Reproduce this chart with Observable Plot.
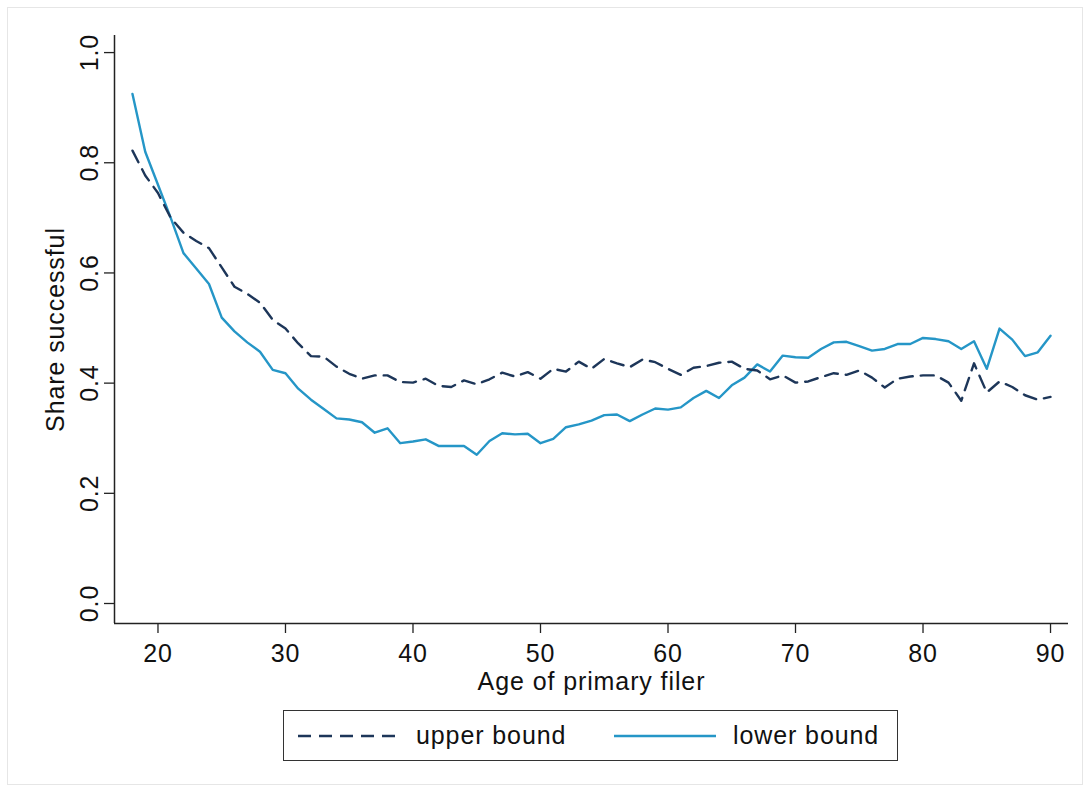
<!DOCTYPE html>
<html>
<head>
<meta charset="utf-8">
<script src="https://cdn.jsdelivr.net/npm/d3@7"></script>
<script src="https://cdn.jsdelivr.net/npm/@observablehq/plot@0.6"></script>
<style>
  html, body { margin: 0; padding: 0; background: #fff; }
  body { width: 1088px; height: 792px; position: relative; overflow: hidden; font-family: "Liberation Sans", Arial, sans-serif; }
  #frame { position: absolute; left: 7px; top: 7px; width: 1074px; height: 776px; border: 1px solid #e6e6e6; pointer-events: none; }
  #chart svg text { letter-spacing: 0.9px; }
  #legend { position: absolute; left: 283px; top: 710px; width: 613px; height: 49px; border: 1.5px solid #333; box-sizing: content-box; }
  #legend .item { position: absolute; top: 0; height: 49px; display: flex; align-items: center; }
  #legend .lab { font-size: 25px; letter-spacing: 0.9px; color: #111; }
</style>
</head>
<body>
<div id="frame"></div>
<div id="chart"></div>
<div id="legend"></div>
<script>
const ages = [18,19,20,21,22,23,24,25,26,27,28,29,30,31,32,33,34,35,36,37,38,39,40,41,42,43,44,45,46,47,48,49,50,51,52,53,54,55,56,57,58,59,60,61,62,63,64,65,66,67,68,69,70,71,72,73,74,75,76,77,78,79,80,81,82,83,84,85,86,87,88,89,90];
const upperBound = [0.822,0.777,0.745,0.700,0.673,0.658,0.645,0.610,0.575,0.562,0.546,0.515,0.499,0.472,0.449,0.448,0.430,0.417,0.408,0.414,0.414,0.402,0.401,0.408,0.395,0.393,0.405,0.398,0.407,0.419,0.412,0.420,0.408,0.426,0.421,0.439,0.426,0.444,0.436,0.429,0.443,0.438,0.426,0.415,0.428,0.431,0.437,0.439,0.426,0.423,0.407,0.414,0.401,0.403,0.411,0.418,0.415,0.423,0.410,0.392,0.408,0.412,0.414,0.414,0.401,0.368,0.436,0.383,0.403,0.393,0.378,0.370,0.375];
const lowerBound = [0.925,0.820,0.760,0.700,0.636,0.608,0.580,0.519,0.494,0.474,0.457,0.424,0.418,0.390,0.370,0.353,0.336,0.334,0.329,0.310,0.318,0.291,0.294,0.298,0.286,0.286,0.286,0.270,0.295,0.309,0.307,0.308,0.291,0.299,0.320,0.325,0.332,0.342,0.343,0.331,0.343,0.354,0.352,0.356,0.373,0.386,0.373,0.396,0.410,0.434,0.421,0.450,0.447,0.446,0.462,0.474,0.475,0.467,0.459,0.462,0.471,0.471,0.482,0.480,0.476,0.462,0.476,0.426,0.499,0.479,0.449,0.456,0.486];
const seriesNames = ["upper bound", "lower bound"];
const seriesColors = ["#1d3659", "#2596c7"];
const xTicks = [20,30,40,50,60,70,80,90];
const yTicks = [0,0.2,0.4,0.6,0.8,1.0];
const xLabel = "Age of primary filer";
const yLabel = "Share successful";

const xDomain = [16.59, 91.41];
const yDomain = [-0.0363, 1.031];

const rows = [];
ages.forEach((a, i) => {
  rows.push({age: a, value: upperBound[i], series: seriesNames[0]});
  rows.push({age: a, value: lowerBound[i], series: seriesNames[1]});
});

const fontSize = 25;
const chart = Plot.plot({
  width: 1088,
  height: 700,
  marginLeft: 114,
  marginRight: 20,
  marginTop: 35,
  marginBottom: 77,
  style: {fontFamily: "'Liberation Sans', Arial, sans-serif", color: "#111", background: "transparent", overflow: "visible"},
  x: {domain: xDomain},
  y: {domain: yDomain},
  marks: [
    Plot.ruleX([xDomain[0]], {stroke: "#222", strokeWidth: 1.5}),
    Plot.ruleY([yDomain[0]], {stroke: "#222", strokeWidth: 1.5}),
    Plot.axisX(xTicks, {tickSize: 10, tickPadding: 11, fontSize, label: null, stroke: "#222", strokeWidth: 1.3}),
    Plot.axisY(yTicks, {tickSize: 10, tickFormat: () => "", label: null, stroke: "#222", strokeWidth: 1.3}),
    Plot.text(yTicks, {y: d => d, text: d => d3.format(".1f")(d), frameAnchor: "left", dx: -17, rotate: -90, textAnchor: "middle", lineAnchor: "bottom", fontSize, fill: "#111"}),
    Plot.text([yLabel], {text: d => d, frameAnchor: "left", dx: -51, rotate: -90, textAnchor: "middle", lineAnchor: "bottom", fontSize, fill: "#111"}),
    Plot.text([xLabel], {text: d => d, frameAnchor: "bottom", dy: 66, textAnchor: "middle", lineAnchor: "bottom", fontSize, fill: "#111"}),
    Plot.line(rows.filter(d => d.series === seriesNames[1]), {x: "age", y: "value", stroke: seriesColors[1], strokeWidth: 2.4, strokeLinejoin: "round"}),
    Plot.line(rows.filter(d => d.series === seriesNames[0]), {x: "age", y: "value", stroke: seriesColors[0], strokeWidth: 2.4, strokeDasharray: "13,8", strokeLinejoin: "round"})
  ]
});
document.getElementById("chart").appendChild(chart);

// legend
const legend = document.getElementById("legend");
const items = [
  {name: seriesNames[0], color: seriesColors[0], dash: "13,8", sx: 13, tx: 132},
  {name: seriesNames[1], color: seriesColors[1], dash: null, sx: 329, tx: 449}
];
items.forEach(it => {
  const sw = document.createElement("div");
  sw.className = "item";
  sw.style.left = it.sx + "px";
  sw.innerHTML = `<svg width="104" height="10"><line x1="1" x2="103" y1="5" y2="5" stroke="${it.color}" stroke-width="2.4" ${it.dash ? `stroke-dasharray="${it.dash}"` : ""}/></svg>`;
  legend.appendChild(sw);
  const lab = document.createElement("div");
  lab.className = "item";
  lab.style.left = it.tx + "px";
  lab.innerHTML = `<span class="lab">${it.name}</span>`;
  legend.appendChild(lab);
});
</script>
</body>
</html>
